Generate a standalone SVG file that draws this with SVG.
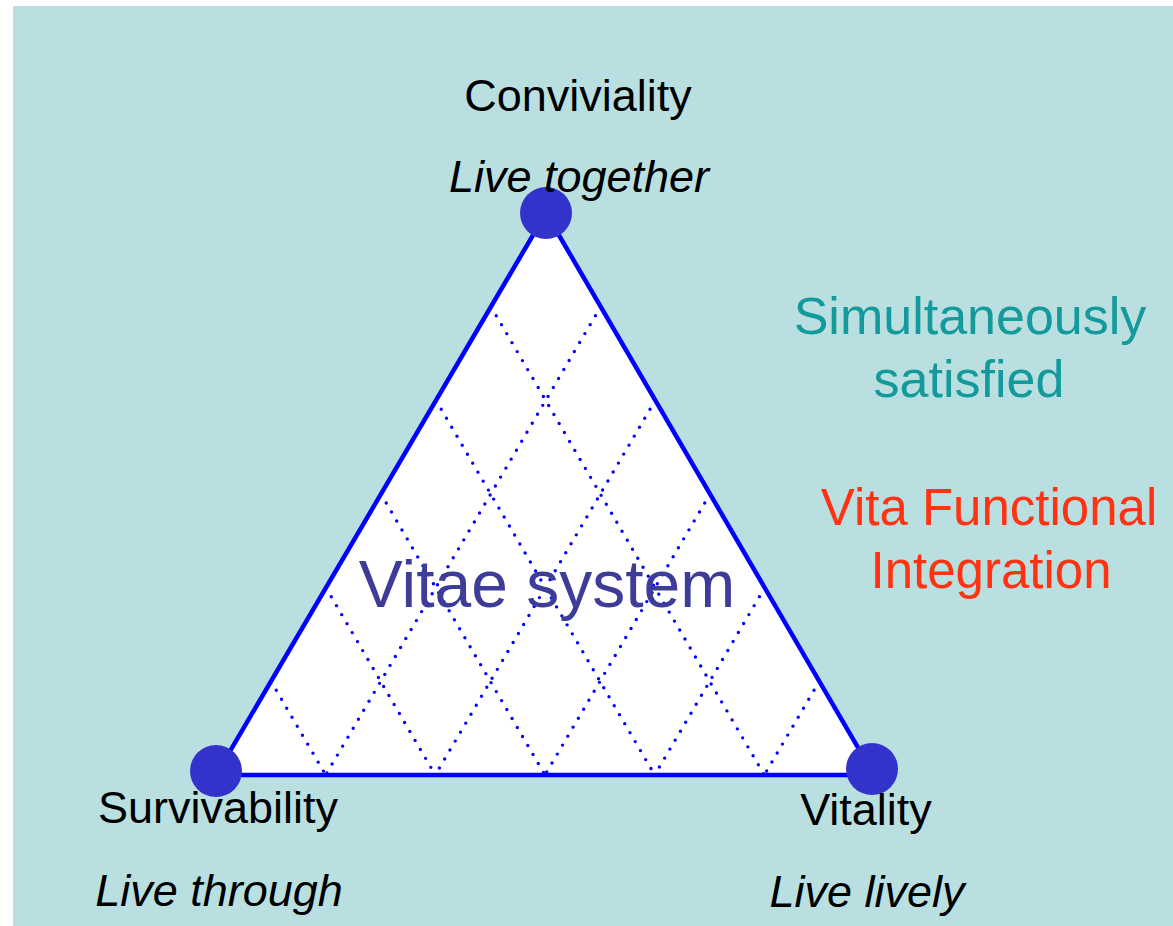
<svg xmlns="http://www.w3.org/2000/svg" width="1173" height="926" viewBox="0 0 1173 926">
<style>
.lbl{font-family:"Liberation Sans",Arial,sans-serif;font-size:45px;fill:#000;text-anchor:middle}
.it{font-style:italic}
.grid{stroke:#0000ff;stroke-width:3.4;stroke-dasharray:0 10.4;stroke-linecap:round;fill:none}
.edge{stroke:#0000ff;stroke-width:4.5;fill:none;stroke-linecap:round}
.dot{fill:#3333cc}
.side{font-family:"Liberation Sans",Arial,sans-serif;text-anchor:middle}
</style>
<rect x="0" y="0" width="1173" height="926" fill="#ffffff"/>
<rect x="13" y="6" width="1160" height="920" fill="#b9dfe1"/>
<g id="triangle">
<polygon points="546,213 216,775 874,775" fill="#ffffff"/>
</g>
<g id="grid">
<line class="grid" x1="491" y1="306.7" x2="764.3" y2="775"/>
<line class="grid" x1="436" y1="400.3" x2="654.7" y2="775"/>
<line class="grid" x1="381" y1="494" x2="545" y2="775"/>
<line class="grid" x1="326" y1="587.7" x2="435.3" y2="775"/>
<line class="grid" x1="271" y1="681.3" x2="325.7" y2="775"/>
<line class="grid" x1="600.7" y1="306.7" x2="325.7" y2="775"/>
<line class="grid" x1="655.3" y1="400.3" x2="435.3" y2="775"/>
<line class="grid" x1="710" y1="494" x2="545" y2="775"/>
<line class="grid" x1="764.7" y1="587.7" x2="654.7" y2="775"/>
<line class="grid" x1="819.3" y1="681.3" x2="764.3" y2="775"/>
</g>
<g id="center-label">
<text x="547" y="607" class="side" font-size="66" fill="#3d3d99">Vitae system</text>
</g>
<g id="connectors">
<line class="edge" x1="546" y1="213" x2="216" y2="775"/>
<line class="edge" x1="546" y1="213" x2="874" y2="775"/>
<line class="edge" x1="216" y1="775" x2="874" y2="775"/>
</g>
<g id="node-conviviality">
<circle class="dot" cx="546" cy="213" r="26"/>
<text class="lbl" x="578" y="111">Conviviality</text>
<text class="lbl it" x="579" y="192">Live together</text>
</g>
<g id="node-survivability">
<circle class="dot" cx="216" cy="771" r="26"/>
<text class="lbl" x="218" y="823">Survivability</text>
<text class="lbl it" x="219" y="906">Live through</text>
</g>
<g id="node-vitality">
<circle class="dot" cx="872" cy="769" r="26"/>
<text class="lbl" x="866" y="825">Vitality</text>
<text class="lbl it" x="867" y="907">Live lively</text>
</g>
<g id="note-simultaneous">
<text class="side" x="970" y="334" font-size="52" fill="#149a9a">Simultaneously</text>
<text class="side" x="969" y="397" font-size="52" fill="#149a9a">satisfied</text>
</g>
<g id="note-vfi">
<text class="side" x="989" y="525" font-size="51" fill="#ff3311">Vita Functional</text>
<text class="side" x="991" y="588" font-size="51" fill="#ff3311">Integration</text>
</g>
</svg>
